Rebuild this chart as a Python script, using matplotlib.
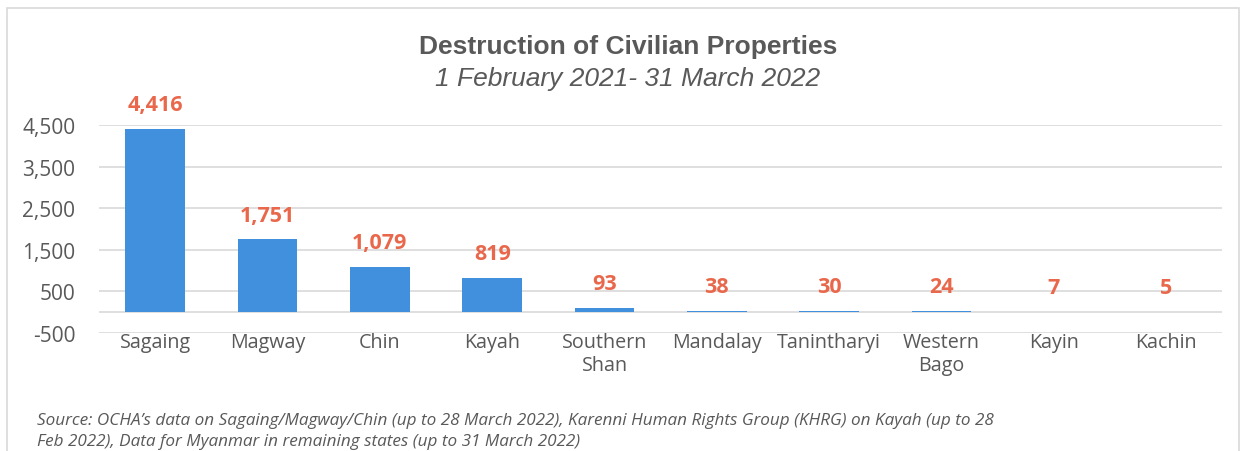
import matplotlib.pyplot as plt
from matplotlib.patches import Rectangle
import numpy as np

regions = ['Sagaing', 'Magway', 'Chin', 'Kayah', 'Southern\nShan', 'Mandalay',
           'Tanintharyi', 'Western\nBago', 'Kayin', 'Kachin']
counts = [4416, 1751, 1079, 819, 93, 38, 30, 24, 7, 5]
yticks = [-500, 500, 1500, 2500, 3500, 4500]

bar_color = '#4190DE'
label_color = '#E9684B'
text_gray = '#595959'
grid_gray = '#D9D9D9'

fig = plt.figure(figsize=(12.46, 4.52), dpi=100)
ax = fig.add_axes([0.0795, 0.261, 0.9015, 0.46])

x = np.arange(len(regions))
bars = ax.bar(x, counts, width=0.53, color=bar_color, zorder=3)

ax.set_xlim(-0.5, len(regions) - 0.5)
ax.set_ylim(-500, 4500)
ax.set_yticks(yticks)
ax.set_yticklabels(['{:,}'.format(v) for v in yticks])
ax.set_xticks(x)
ax.set_xticklabels(regions)

# gridlines, plus the zero line where the category axis crosses
for v in yticks:
    ax.axhline(v, color=grid_gray, lw=1.2, zorder=1)
ax.axhline(0, color=grid_gray, lw=1.2, zorder=1)

for s in ax.spines.values():
    s.set_visible(False)
ax.tick_params(axis='y', length=0, colors=text_gray, labelsize=15, pad=17)
ax.tick_params(axis='x', length=0, colors=text_gray, labelsize=14.2, pad=-1)
for lab in ax.get_xticklabels() + ax.get_yticklabels():
    lab.set_fontfamily('Open Sans')
for lab in ax.get_xticklabels():
    lab.set_linespacing(1.2)

# value labels
for rect, v in zip(bars, counts):
    ax.annotate('{:,}'.format(v), (rect.get_x() + rect.get_width() / 2, max(v, 0)),
                xytext=(0, 10), textcoords='offset points', ha='center', va='bottom',
                color=label_color, fontsize=15.5, fontweight='bold', family='Open Sans')

fig.text(0.504, 0.895, 'Destruction of Civilian Properties', ha='center', va='center',
         fontsize=19, fontweight='bold', color=text_gray, family='Liberation Sans')
fig.text(0.504, 0.825, '1 February 2021- 31 March 2022', ha='center', va='center',
         fontsize=19, style='italic', color=text_gray, family='Liberation Sans')

fig.text(0.030, 0.068, "Source: OCHA\u2019s data on Sagaing/Magway/Chin (up to 28 March 2022), "
         "Karenni Human Rights Group (KHRG) on Kayah (up to 28",
         ha='left', va='center', fontsize=12.3, style='italic', color=text_gray, family='Open Sans')
fig.text(0.030, 0.022, "Feb 2022), Data for Myanmar in remaining states (up to 31 March 2022)",
         ha='left', va='center', fontsize=12.3, style='italic', color=text_gray, family='Open Sans')

# outer chart border
fig.patches.append(Rectangle((7 / 1246, -0.1), 1232 / 1246, 1.08, transform=fig.transFigure,
                             fill=False, edgecolor=grid_gray, lw=1.2))

fig.savefig('out.png', dpi=100)
